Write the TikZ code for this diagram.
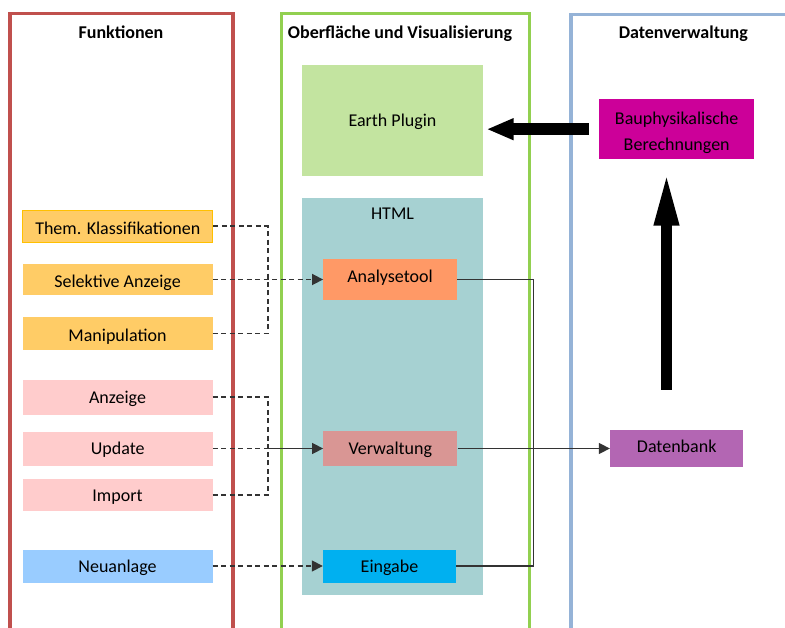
\documentclass[tikz,border=0pt]{standalone}
\usepackage{fontspec}
\setmainfont{Carlito}
\usetikzlibrary{arrows.meta}
\definecolor{frred}{HTML}{C0504D}
\definecolor{frgreen}{HTML}{92D050}
\definecolor{frblue}{HTML}{95B3D7}
\definecolor{gold}{HTML}{FFCC66}
\definecolor{goldline}{HTML}{FFC000}
\definecolor{rose}{HTML}{FFCCCC}
\definecolor{skyblue}{HTML}{99CCFF}
\definecolor{earthgreen}{HTML}{C3E4A0}
\definecolor{htmlteal}{HTML}{A6D1D2}
\definecolor{orangebox}{HTML}{FF9966}
\definecolor{dustyrose}{HTML}{D99694}
\definecolor{cyanbox}{HTML}{00B0F0}
\definecolor{purplebox}{HTML}{B366B3}
\definecolor{magentabox}{HTML}{CC0099}
\definecolor{linegray}{HTML}{333333}

\begin{document}
\begin{tikzpicture}[x=1pt,y=-1pt,
  box/.style={inner sep=0pt, text height=16pt, text depth=4pt, font=\fontsize{18}{22}\selectfont},
  fbox/.style={box, minimum width=190pt},
  goldbox/.style={fbox, fill=gold, text height=18pt, text depth=2pt},
  title/.style={anchor=base, font=\fontsize{18}{22}\selectfont\bfseries},
  frame/.style={line width=3.3pt},
  dline/.style={draw=linegray, line width=1.6pt, dash pattern=on 5pt off 3.5pt},
  sline/.style={draw=linegray, line width=1.5pt},
  tip/.style={-{Triangle[length=11pt,width=11pt]}},
  bigarrow/.style={draw=black, line width=11.5pt}]
\useasboundingbox (0,0) rectangle (785,628);

\draw[frame, frred] (10,640) -- (10,13.3) -- (233,13.3) -- (233,640);
\draw[frame, frgreen] (281.7,640) -- (281.7,13.3) -- (529.7,13.3) -- (529.7,640);
\draw[frame, frblue] (571,640) -- (571,14.3) -- (800,14.3);

\node[title] (tfunk) at (121,39) {Funktionen};
\node[title] (tober) at (400,39) {Oberfläche und Visualisierung};
\node[title] (tdaten) at (683.3,39) {Datenverwaltung};

\node[goldbox, draw=goldline, line width=1pt, minimum height=32pt] (them) at (117.8,226.3) {Them. Klassifikationen};
\node[goldbox, minimum height=31pt] (sel) at (117.5,279.5) {Selektive Anzeige};
\node[goldbox, minimum height=33pt] (manip) at (117.5,333.5) {Manipulation};

\node[fbox, fill=rose, minimum height=34.7pt] (anz) at (117.5,397.3) {Anzeige};
\node[fbox, fill=rose, minimum height=34pt] (upd) at (117.7,448.5) {Update};
\node[fbox, fill=rose, minimum height=32pt] (imp) at (117.5,495) {Import};

\node[fbox, fill=skyblue, minimum height=33pt] (neu) at (117.5,566) {Neuanlage};

\node[box, fill=earthgreen, minimum width=181.7pt, minimum height=110.7pt] (earth) at (392.5,120.7) {Earth Plugin};
\node[box, fill=htmlteal, minimum width=181.7pt, minimum height=397pt] (html) at (392.5,396.2) {};
\node[anchor=base, font=\fontsize{18}{22}\selectfont] (htmltxt) at (392.5,220) {HTML};

\node[box, fill=orangebox, minimum width=133.4pt, minimum height=41pt, text height=13pt, text depth=7pt] (analyse) at (390,279.5) {Analysetool};
\node[box, fill=dustyrose, minimum width=134pt, minimum height=35.7pt] (verw) at (390.3,448.5) {Verwaltung};
\node[box, fill=cyanbox, minimum width=133pt, minimum height=33pt] (eingabe) at (389.5,566) {Eingabe};

\node[box, fill=magentabox, minimum width=155.3pt, minimum height=60.3pt, align=center, text height=, text depth=, font=\fontsize{18}{26}\selectfont] (bauph) at (676.7,129.2) {\rule{0pt}{19pt}Bauphysikalische\\Berechnungen};
\node[box, fill=purplebox, minimum width=133.3pt, minimum height=37.7pt, text height=15pt, text depth=6pt] (db) at (676.7,448.5) {Datenbank};

\coordinate (lbus1) at (268,279.5);
\coordinate (lbus2) at (268,448.5);
\coordinate (rbus) at (533.3,448.5);
\coordinate (upstart) at (666.5,390);

\path[dline] (them.east) -| (lbus1);
\path[dline] (manip.east) -| (lbus1);
\path[dline, tip] (sel.east) -- (analyse.west);

\path[dline] (anz.east) -| (lbus2);
\path[dline] (imp.east) -| (lbus2);
\path[dline] (upd.east) -- (lbus2);
\path[sline, tip] (lbus2) -- (verw.west);

\path[dline, tip] (neu.east) -- (eingabe.west);

\path[sline] (analyse.east) -| (rbus);
\path[sline] (eingabe.east) -| (rbus);
\path[sline, tip] (verw.east) -- (db.west);

\path[bigarrow, -{Triangle[length=56pt,width=22pt]}, shorten >=10pt] (upstart) -- (upstart |- bauph.south);
\path[bigarrow, -{Triangle[length=27pt,width=20pt]}, shorten <=10pt, shorten >=3pt] (bauph.west) -- (bauph.west -| earth.east);
\end{tikzpicture}
\end{document}
